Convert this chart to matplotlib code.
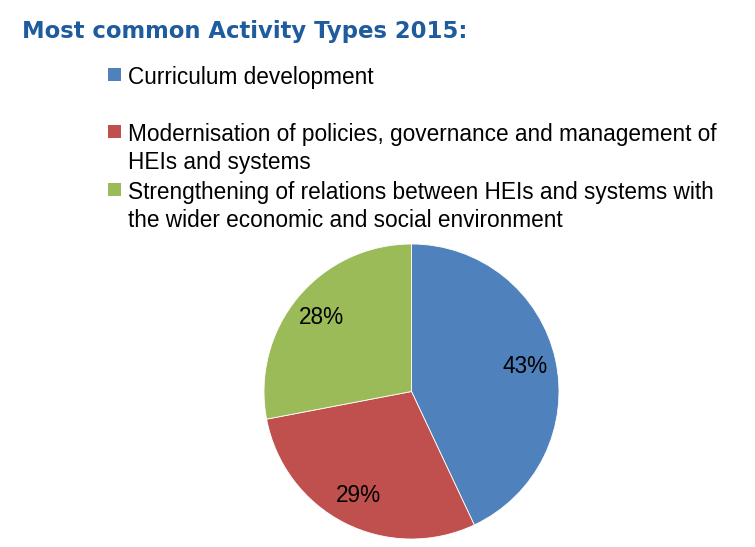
import matplotlib
matplotlib.use("Agg")
import matplotlib.pyplot as plt
from matplotlib.patches import Rectangle

title = "Most common Activity Types 2015:"
categories = [
    "Curriculum development",
    "Modernisation of policies, governance and management of\nHEIs and systems",
    "Strengthening of relations between HEIs and systems with\nthe wider economic and social environment",
]
values = [43, 29, 28]
colors = ["#4F81BD", "#C0504D", "#9BBB59"]

W, H = 755, 547
fig = plt.figure(figsize=(W / 100, H / 100), dpi=100)
fig.patch.set_facecolor("white")

def fx(x):
    return x / W

def fy(y):
    return 1 - y / H

# Title
fig.text(fx(22), fy(38), title, fontsize=16.4, fontweight="bold",
         color="#1F5C9E", family="DejaVu Sans", va="baseline", ha="left")

# Legend (manual, squares aligned with first line)
legend_baselines = [83, 140, 198]
fs = 16.3
for lab, col, yb in zip(categories, colors, legend_baselines):
    fig.patches.append(Rectangle((fx(108), fy(yb - 2)), 13 / W, 13 / H,
                                 transform=fig.transFigure, facecolor=col,
                                 edgecolor="none"))
    fig.text(fx(128), fy(yb - 16.7), lab, fontsize=fs, family="Liberation Sans",
             color="black", va="top", ha="left", linespacing=1.28)

# Pie
cx, cy, r = 411.5, 391.5, 147.5
ax = fig.add_axes([fx(cx - r), fy(cy + r), 2 * r / W, 2 * r / H])
wedges, texts, autotexts = ax.pie(
    values, colors=colors, startangle=90, counterclock=False,
    autopct="%d%%", pctdistance=0.79, radius=1,
    wedgeprops=dict(edgecolor="white", linewidth=0.6),
    textprops=dict(fontsize=16.3, family="Liberation Sans", color="black"),
)
ax.set_xlim(-1, 1)
ax.set_ylim(-1, 1)
ax.axis("off")

fig.savefig("out.png", dpi=100, facecolor="white")
